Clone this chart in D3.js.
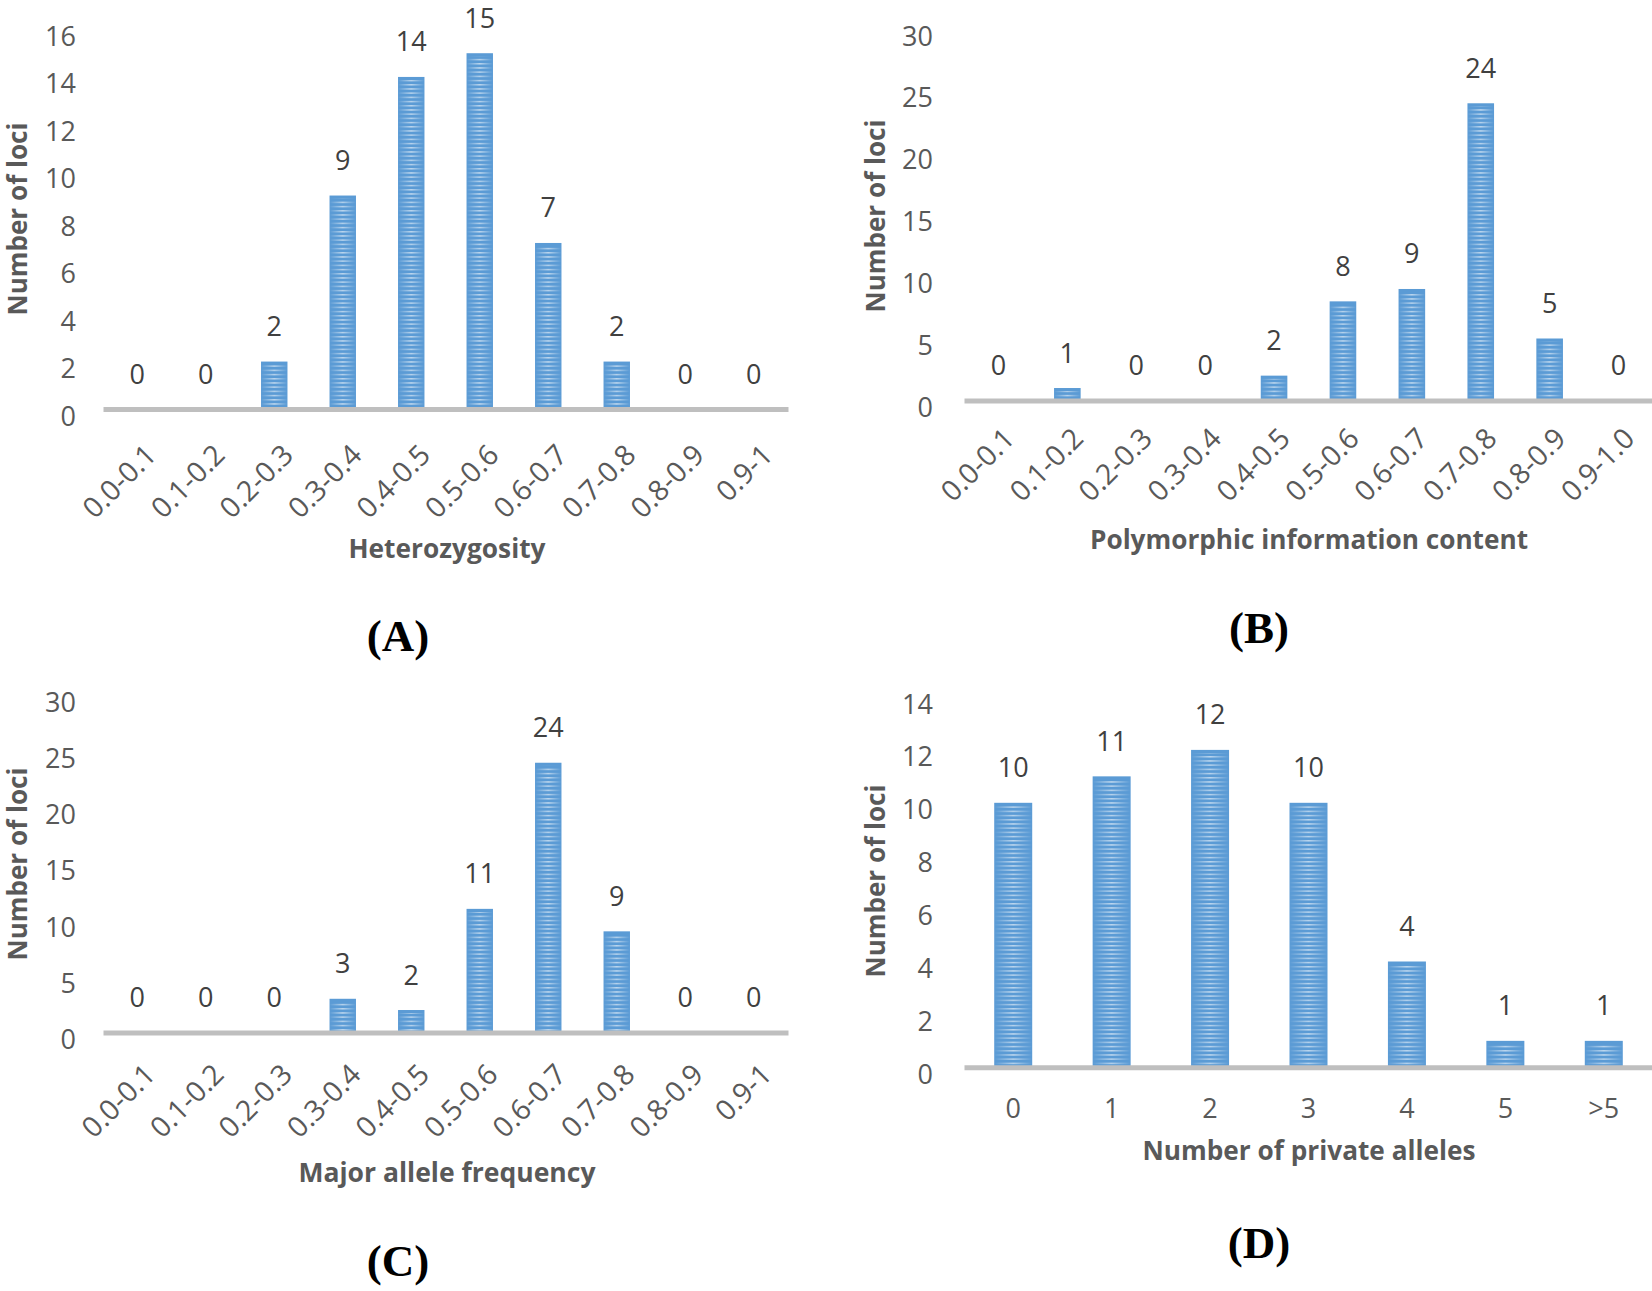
<!DOCTYPE html>
<html>
<head>
<meta charset="utf-8">
<script src="https://cdn.jsdelivr.net/npm/d3@7"></script>
<style>
  html, body { margin: 0; padding: 0; background: #fff; }
  svg { display: block; }
</style>
</head>
<body>
<svg id="chart" width="1652" height="1291"></svg>
<script>
// ---------------- DATA ----------------
const hetCategories = ["0.0-0.1","0.1-0.2","0.2-0.3","0.3-0.4","0.4-0.5","0.5-0.6","0.6-0.7","0.7-0.8","0.8-0.9","0.9-1"];
const hetCounts = [0, 0, 2, 9, 14, 15, 7, 2, 0, 0];
const hetTicks = [0, 2, 4, 6, 8, 10, 12, 14, 16];
const hetTitle = "Heterozygosity";

const picCategories = ["0.0-0.1","0.1-0.2","0.2-0.3","0.3-0.4","0.4-0.5","0.5-0.6","0.6-0.7","0.7-0.8","0.8-0.9","0.9-1.0"];
const picCounts = [0, 1, 0, 0, 2, 8, 9, 24, 5, 0];
const picTicks = [0, 5, 10, 15, 20, 25, 30];
const picTitle = "Polymorphic information content";

const mafCategories = ["0.0-0.1","0.1-0.2","0.2-0.3","0.3-0.4","0.4-0.5","0.5-0.6","0.6-0.7","0.7-0.8","0.8-0.9","0.9-1"];
const mafCounts = [0, 0, 0, 3, 2, 11, 24, 9, 0, 0];
const mafTicks = [0, 5, 10, 15, 20, 25, 30];
const mafTitle = "Major allele frequency";

const paCategories = ["0","1","2","3","4","5",">5"];
const paCounts = [10, 11, 12, 10, 4, 1, 1];
const paTicks = [0, 2, 4, 6, 8, 10, 12, 14];
const paTitle = "Number of private alleles";

const yTitle = "Number of loci";
const panelLabels = ["(A)", "(B)", "(C)", "(D)"];

// ---------------- LAYOUT ----------------
const panels = [
  { cats: hetCategories, vals: hetCounts, ticks: hetTicks, title: hetTitle, label: panelLabels[0],
    x0: 103, x1: 788, axisY: 409, topY: 29.5, tickRight: 76, rotate: true, xlx: 13, xly: 40,
    titleX: 447, titleY: 548, titleLen: 197, yTitleX: 17, yTitleY: 219, labelX: 398, labelY: 636 },
  { cats: picCategories, vals: picCounts, ticks: picTicks, title: picTitle, label: panelLabels[1],
    x0: 964, x1: 1653, axisY: 400.4, topY: 29, tickRight: 933, rotate: true, xlx: 10, xly: 32,
    titleX: 1309, titleY: 539, titleLen: 438, yTitleX: 875, yTitleY: 216, labelX: 1259, labelY: 628 },
  { cats: mafCategories, vals: mafCounts, ticks: mafTicks, title: mafTitle, label: panelLabels[2],
    x0: 103, x1: 788, axisY: 1032.5, topY: 695.3, tickRight: 76, rotate: true, xlx: 12, xly: 36,
    titleX: 447, titleY: 1172, titleLen: 297, yTitleX: 17, yTitleY: 864, labelX: 398, labelY: 1261 },
  { cats: paCategories, vals: paCounts, ticks: paTicks, title: paTitle, label: panelLabels[3],
    x0: 964, x1: 1653, axisY: 1067.3, topY: 697, tickRight: 933, rotate: false, xlx: 0, xly: 40,
    titleX: 1309, titleY: 1150, titleLen: 333, yTitleX: 875, yTitleY: 881, labelX: 1259, labelY: 1243 }
];

const BAR = "#5b9bd5";
const svg = d3.select("#chart");
const defs = svg.append("defs");

// stripe pattern for the bars
const pat = defs.append("pattern").attr("id", "stripes")
  .attr("patternUnits", "userSpaceOnUse").attr("width", 8).attr("height", 4.2);
pat.append("rect").attr("x", 0).attr("y", 0).attr("width", 8).attr("height", 1.5)
  .attr("fill", "#ffffff").attr("fill-opacity", 0.6);

const hg = defs.append("linearGradient").attr("id", "hfade")
  .attr("x1", 0).attr("x2", 1).attr("y1", 0).attr("y2", 0);
hg.append("stop").attr("offset", "0%").attr("stop-color", "#000");
hg.append("stop").attr("offset", "20%").attr("stop-color", "#666");
hg.append("stop").attr("offset", "50%").attr("stop-color", "#fff");
hg.append("stop").attr("offset", "80%").attr("stop-color", "#666");
hg.append("stop").attr("offset", "100%").attr("stop-color", "#000");
const mask = defs.append("mask").attr("id", "barmask")
  .attr("maskContentUnits", "objectBoundingBox");
mask.append("rect").attr("width", 1).attr("height", 1).attr("fill", "url(#hfade)");

const tickFont = "'Open Sans', 'Noto Sans', sans-serif";

panels.forEach((p, i) => {
  const g = svg.append("g");
  const x = d3.scaleBand().domain(p.cats).range([p.x0, p.x1])
    .paddingInner(0.614).paddingOuter(0.307);
  const y = d3.scaleLinear().domain([0, d3.max(p.ticks)]).range([p.axisY, p.topY]);

  // bars
  const bars = g.append("g");
  bars.selectAll("rect.bar").data(p.vals).join("rect").attr("class", "bar")
    .attr("x", (d, j) => x(p.cats[j])).attr("width", x.bandwidth())
    .attr("y", d => y(d)).attr("height", d => y(0) - y(d))
    .attr("fill", BAR);
  bars.selectAll("rect.stripe").data(p.vals).join("rect").attr("class", "stripe")
    .attr("x", (d, j) => x(p.cats[j])).attr("width", x.bandwidth())
    .attr("y", d => y(d) + 3).attr("height", d => Math.max(0, y(0) - y(d) - 3))
    .attr("fill", "url(#stripes)").attr("mask", "url(#barmask)");

  // value labels
  g.append("g").selectAll("text").data(p.vals).join("text")
    .attr("x", (d, j) => x(p.cats[j]) + x.bandwidth() / 2)
    .attr("y", d => y(d) - 36)
    .attr("text-anchor", "middle").attr("dominant-baseline", "central")
    .style("font-family", tickFont).style("font-size", "27px").attr("fill", "#404040")
    .text(d => d);

  // x axis
  const xa = g.append("g").attr("transform", `translate(0,${p.axisY})`)
    .call(d3.axisBottom(x).tickSize(0).tickSizeOuter(0).tickPadding(0));
  xa.select(".domain").attr("stroke", "#bfbfbf").attr("stroke-width", 5);
  xa.selectAll("text").style("font-family", tickFont).style("font-size", p.rotate ? "28.5px" : "27px").attr("fill", "#595959");
  if (p.rotate) {
    xa.selectAll(".tick text")
      .attr("text-anchor", "end").attr("dy", null).attr("y", 0)
      .attr("dominant-baseline", "central")
      .attr("transform", `translate(${p.xlx},${p.xly}) rotate(-45)`);
  } else {
    xa.selectAll(".tick text").attr("dy", null).attr("y", p.xly).attr("dominant-baseline", "central");
  }

  // y axis (labels only)
  const ya = g.append("g").attr("transform", `translate(${p.tickRight},0)`)
    .call(d3.axisLeft(y).tickValues(p.ticks).tickSize(0).tickPadding(0));
  ya.select(".domain").remove();
  ya.selectAll("text").style("font-family", tickFont).style("font-size", "27px").attr("fill", "#595959")
    .attr("dy", null).attr("dominant-baseline", "central").attr("y", 5.5);

  // axis titles
  g.append("text").attr("x", p.titleX).attr("y", p.titleY)
    .attr("text-anchor", "middle").attr("dominant-baseline", "central")
    .attr("textLength", p.titleLen).attr("lengthAdjust", "spacingAndGlyphs")
    .style("font-family", tickFont).style("font-weight", "bold").style("font-size", "26px")
    .attr("fill", "#595959").text(p.title);
  g.append("text")
    .attr("transform", `translate(${p.yTitleX},${p.yTitleY}) rotate(-90)`)
    .attr("text-anchor", "middle").attr("dominant-baseline", "central")
    .attr("textLength", 193).attr("lengthAdjust", "spacingAndGlyphs")
    .style("font-family", tickFont).style("font-weight", "bold").style("font-size", "26px")
    .attr("fill", "#595959").text(yTitle);

  // panel label
  g.append("text").attr("x", p.labelX).attr("y", p.labelY)
    .attr("text-anchor", "middle").attr("dominant-baseline", "central")
    .style("font-family", "'Liberation Serif', 'Times New Roman', Times, serif")
    .style("font-weight", "bold").style("font-size", "45px").attr("fill", "#000")
    .text(p.label);
});
</script>
</body>
</html>
